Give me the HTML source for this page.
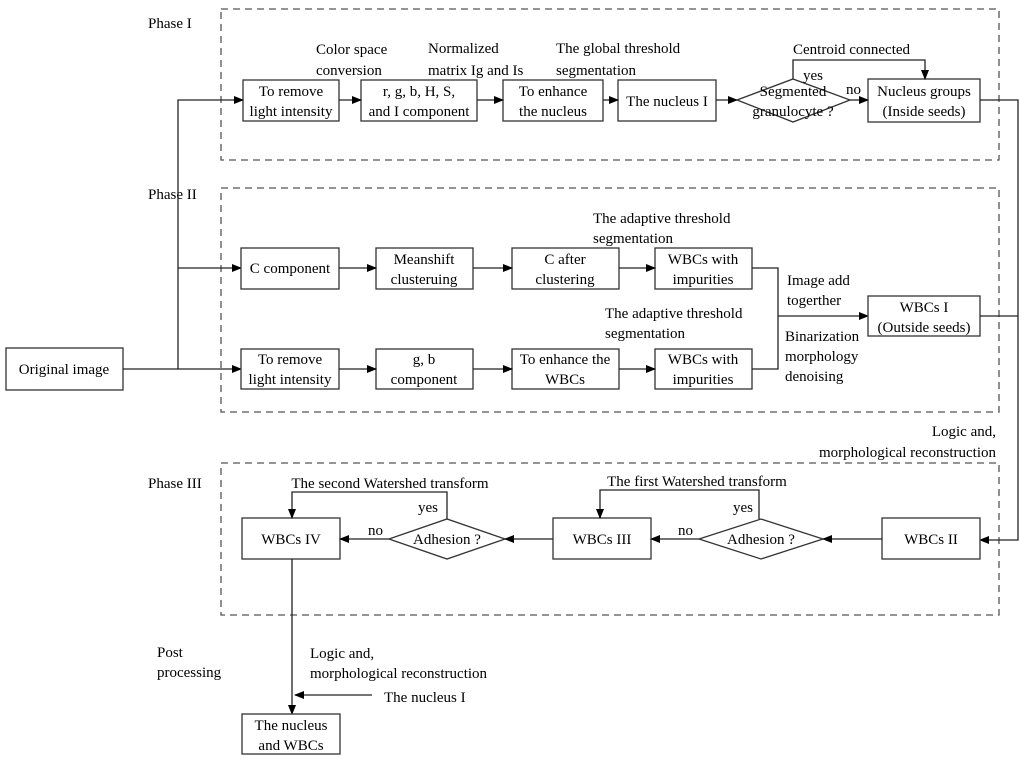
<!DOCTYPE html>
<html><head><meta charset="utf-8"><style>
html,body{margin:0;padding:0;background:#fff;}
svg{display:block;}
text{font-family:"Liberation Serif",serif;font-size:15px;fill:#000;}
.b{fill:#fff;stroke:#333;stroke-width:1.3;}
.l{fill:none;stroke:#222;stroke-width:1.3;}
.d{fill:none;stroke:#555;stroke-width:1.3;stroke-dasharray:7,5;}
.c{text-anchor:middle;}
</style></head><body>
<svg width="1024" height="763" viewBox="0 0 1024 763" xmlns="http://www.w3.org/2000/svg">
<defs><marker id="a" markerWidth="10" markerHeight="8" refX="9" refY="4" orient="auto" markerUnits="userSpaceOnUse"><path d="M0,0 L10,4 L0,8 z" fill="#000"/></marker></defs>

<rect class="d" x="221" y="9" width="778" height="151"/>
<rect class="d" x="221" y="188" width="778" height="224"/>
<rect class="d" x="221" y="463" width="778" height="152"/>

<text x="148" y="28">Phase I</text>
<text x="148" y="199">Phase II</text>
<text x="148" y="488">Phase III</text>

<!-- Phase I -->
<rect class="b" x="243" y="80" width="96" height="41"/>
<text class="c" x="291" y="96">To remove</text><text class="c" x="291" y="116">light intensity</text>
<rect class="b" x="361" y="80" width="116" height="41"/>
<text class="c" x="419" y="96">r, g, b, H, S,</text><text class="c" x="419" y="116">and I component</text>
<rect class="b" x="503" y="80" width="100" height="41"/>
<text class="c" x="553" y="96">To enhance</text><text class="c" x="553" y="116">the nucleus</text>
<rect class="b" x="618" y="80" width="98" height="41"/>
<text class="c" x="667" y="106">The nucleus I</text>
<polygon class="b" points="737,100 793,79 850,100 793,122"/>
<text class="c" x="793" y="96">Segmented</text><text class="c" x="793" y="116">granulocyte ?</text>
<rect class="b" x="868" y="79" width="112" height="43"/>
<text class="c" x="924" y="96">Nucleus groups</text><text class="c" x="924" y="116">(Inside seeds)</text>
<text x="316" y="54">Color space</text><text x="316" y="75">conversion</text>
<text x="428" y="53">Normalized</text><text x="428" y="75">matrix Ig and  Is</text>
<text x="556" y="53">The global threshold</text><text x="556" y="75">segmentation</text>
<text x="793" y="54">Centroid connected</text>
<text x="803" y="80">yes</text>
<text x="846" y="94">no</text>
<path class="l" d="M339,100 H361" marker-end="url(#a)"/>
<path class="l" d="M477,100 H503" marker-end="url(#a)"/>
<path class="l" d="M603,100 H618" marker-end="url(#a)"/>
<path class="l" d="M716,100 H737" marker-end="url(#a)"/>
<path class="l" d="M850,100 H868" marker-end="url(#a)"/>
<path class="l" d="M793,79 V60 H925 V79" marker-end="url(#a)"/>
<path class="l" d="M980,100 H1018 V540 H980" marker-end="url(#a)"/>

<!-- left -->
<rect class="b" x="6" y="348" width="117" height="42"/>
<text class="c" x="64" y="374">Original image</text>
<path class="l" d="M123,369 H178 V100 H243" marker-end="url(#a)"/>
<path class="l" d="M178,268 H241" marker-end="url(#a)"/>
<path class="l" d="M178,369 H241" marker-end="url(#a)"/>

<!-- Phase II -->
<rect class="b" x="241" y="248" width="98" height="41"/>
<text class="c" x="290" y="273">C component</text>
<rect class="b" x="376" y="248" width="97" height="41"/>
<text class="c" x="424" y="264">Meanshift</text><text class="c" x="424" y="284">clusteruing</text>
<rect class="b" x="512" y="248" width="107" height="41"/>
<text class="c" x="565" y="264">C after</text><text class="c" x="565" y="284">clustering</text>
<rect class="b" x="655" y="248" width="97" height="41"/>
<text class="c" x="703" y="264">WBCs with</text><text class="c" x="703" y="284">impurities</text>
<rect class="b" x="241" y="349" width="98" height="40"/>
<text class="c" x="290" y="364">To remove</text><text class="c" x="290" y="384">light intensity</text>
<rect class="b" x="376" y="349" width="97" height="40"/>
<text class="c" x="424" y="364">g, b</text><text class="c" x="424" y="384">component</text>
<rect class="b" x="512" y="349" width="107" height="40"/>
<text class="c" x="565" y="364">To enhance the</text><text class="c" x="565" y="384">WBCs</text>
<rect class="b" x="655" y="349" width="97" height="40"/>
<text class="c" x="703" y="364">WBCs with</text><text class="c" x="703" y="384">impurities</text>
<path class="l" d="M339,268 H376" marker-end="url(#a)"/>
<path class="l" d="M473,268 H512" marker-end="url(#a)"/>
<path class="l" d="M619,268 H655" marker-end="url(#a)"/>
<path class="l" d="M339,369 H376" marker-end="url(#a)"/>
<path class="l" d="M473,369 H512" marker-end="url(#a)"/>
<path class="l" d="M619,369 H655" marker-end="url(#a)"/>
<path class="l" d="M752,268 H778 V369 H752"/>
<path class="l" d="M778,316 H868" marker-end="url(#a)"/>
<text x="593" y="223">The adaptive threshold</text><text x="593" y="243">segmentation</text>
<text x="605" y="318">The adaptive threshold</text><text x="605" y="338">segmentation</text>
<text x="787" y="285">Image add</text><text x="787" y="305">togerther</text>
<text x="785" y="341">Binarization</text><text x="785" y="361">morphology</text><text x="785" y="381">denoising</text>
<rect class="b" x="868" y="296" width="112" height="40"/>
<text class="c" x="924" y="312">WBCs I</text><text class="c" x="924" y="332">(Outside seeds)</text>
<path class="l" d="M980,316 H1018"/>
<text x="996" y="436" text-anchor="end">Logic and,</text>
<text x="996" y="457" text-anchor="end">morphological reconstruction</text>

<!-- Phase III -->
<rect class="b" x="242" y="518" width="98" height="41"/>
<text class="c" x="291" y="544">WBCs IV</text>
<polygon class="b" points="389,539 447,519 505,539 447,559"/>
<text class="c" x="447" y="544">Adhesion ?</text>
<rect class="b" x="553" y="518" width="98" height="41"/>
<text class="c" x="602" y="544">WBCs III</text>
<polygon class="b" points="699,539 761,519 823,539 761,559"/>
<text class="c" x="761" y="544">Adhesion ?</text>
<rect class="b" x="882" y="518" width="98" height="41"/>
<text class="c" x="931" y="544">WBCs II</text>
<path class="l" d="M882,539 H823" marker-end="url(#a)"/>
<path class="l" d="M699,539 H651" marker-end="url(#a)"/>
<path class="l" d="M553,539 H505" marker-end="url(#a)"/>
<path class="l" d="M389,539 H340" marker-end="url(#a)"/>
<path class="l" d="M447,519 V492 H292 V518" marker-end="url(#a)"/>
<path class="l" d="M759,519 V490 H600 V518" marker-end="url(#a)"/>
<text class="c" x="390" y="488">The second Watershed transform</text>
<text class="c" x="697" y="486">The first Watershed transform</text>
<text x="418" y="512">yes</text><text x="733" y="512">yes</text>
<text x="368" y="535">no</text><text x="678" y="535">no</text>

<!-- post -->
<path class="l" d="M292,559 V714" marker-end="url(#a)"/>
<path class="l" d="M372,695 H295" marker-end="url(#a)"/>
<text x="157" y="657">Post</text><text x="157" y="677">processing</text>
<text x="310" y="658">Logic and,</text><text x="310" y="678">morphological reconstruction</text>
<text x="384" y="702">The nucleus I</text>
<rect class="b" x="242" y="714" width="98" height="40"/>
<text class="c" x="291" y="730">The nucleus</text><text class="c" x="291" y="750">and WBCs</text>
</svg>
</body></html>
